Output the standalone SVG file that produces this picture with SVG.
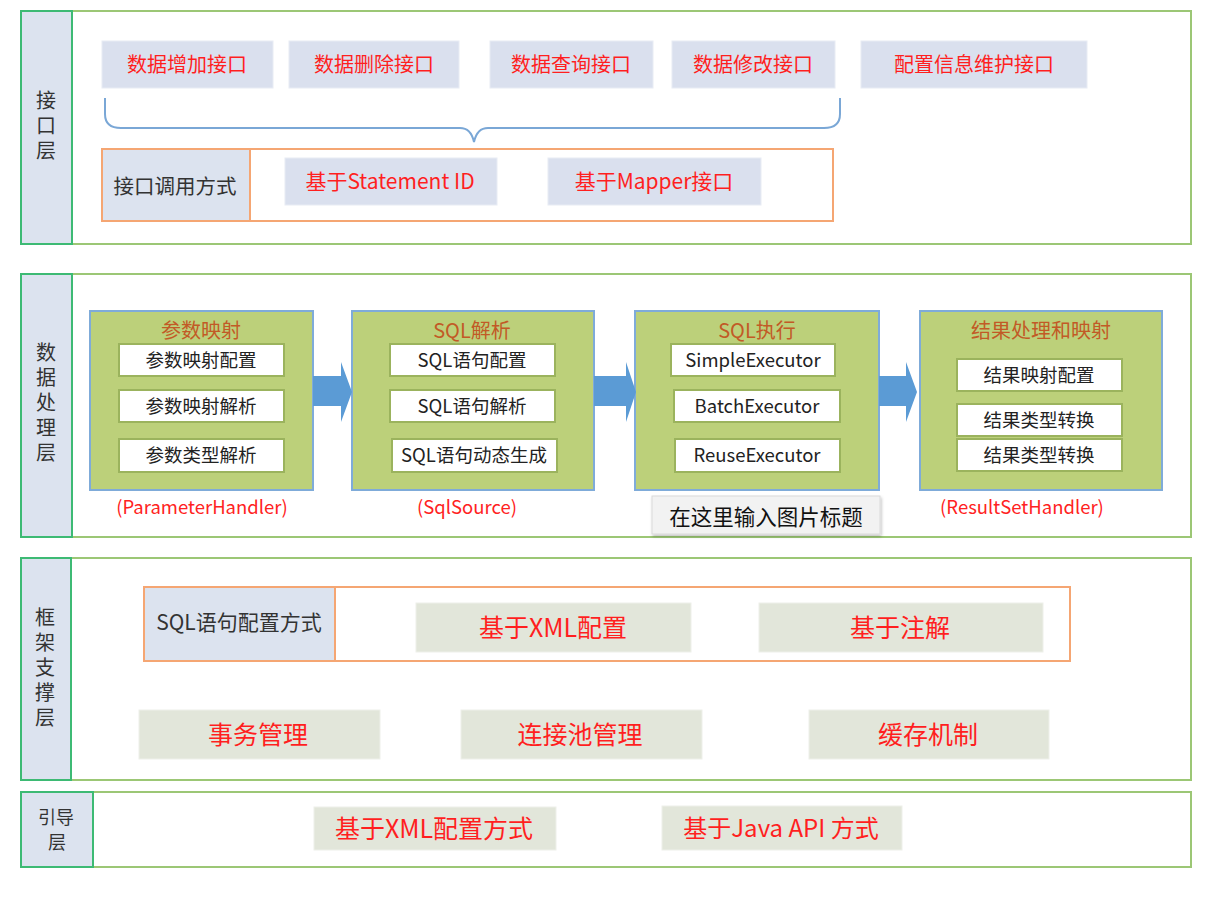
<svg xmlns="http://www.w3.org/2000/svg" width="1226" height="920" viewBox="0 0 1226 920">
<defs>
<style>
text{font-family:"Noto Sans CJK SC","Noto Sans",sans-serif;text-anchor:middle;dominant-baseline:central}
.layer{fill:#fff;stroke:#9cc775;stroke-width:2}
.lab{fill:#dce3ef;stroke:#3dba74;stroke-width:2}
.labt{font-size:20px;fill:#333}
.vert{writing-mode:vertical-rl;letter-spacing:5px;font-size:20px;fill:#333}
.blue{fill:#dae0ee;stroke:#e8ecf4;stroke-width:1}
.red{fill:#ff1f1f}
.grey{fill:#e2e6da;stroke:#eef0ea;stroke-width:1}
.org{fill:none;stroke:#f5a673;stroke-width:2}
.cell{fill:#dce3ef;stroke:#f5a673;stroke-width:2}
.proc{fill:#bcd07a;stroke:#7fabd9;stroke-width:2}
.sub{fill:#fff;stroke:#9bb35d;stroke-width:2}
.ptitle{font-size:20px;fill:#c25a26}
.subt{font-size:18.5px;fill:#222}
.hand{font-size:18.5px;fill:#ff2222}
.arr{fill:#5b9bd5}
</style>
<filter id="sh" x="-10%" y="-20%" width="120%" height="150%"><feDropShadow dx="1" dy="2" stdDeviation="1.5" flood-color="#000" flood-opacity="0.25"/></filter>
</defs>
<rect width="1226" height="920" fill="#fff"/>

<!-- Layer 1 -->
<g id="layer-interface">
<rect class="layer" x="21" y="11" width="1170" height="233"/>
<rect class="lab" x="21" y="11" width="51" height="233"/>
<text class="vert" x="46" y="128">接口层</text>
</g>
<g id="n-add"><rect class="blue" x="102" y="41" width="171" height="47"/><text class="red" x="187" y="63" font-size="20">数据增加接口</text></g>
<g id="n-del"><rect class="blue" x="289" y="41" width="170" height="47"/><text class="red" x="374" y="63" font-size="20">数据删除接口</text></g>
<g id="n-query"><rect class="blue" x="490" y="41" width="163" height="47"/><text class="red" x="571" y="63" font-size="20">数据查询接口</text></g>
<g id="n-mod"><rect class="blue" x="672" y="41" width="163" height="47"/><text class="red" x="753" y="63" font-size="20">数据修改接口</text></g>
<g id="n-conf"><rect class="blue" x="861" y="41" width="226" height="47"/><text class="red" x="974" y="63" font-size="20">配置信息维护接口</text></g>
<g id="n-call">
<rect class="org" x="102" y="149" width="731" height="72"/>
<rect class="cell" x="102" y="149" width="148" height="72"/>
<text x="175" y="185" font-size="20.5" fill="#333">接口调用方式</text>
</g>
<g id="n-stmt"><rect class="blue" x="285" y="158" width="212" height="47"/><text class="red" x="390" y="180" font-size="21">基于Statement ID</text></g>
<g id="n-mapper"><rect class="blue" x="548" y="158" width="213" height="47"/><text class="red" x="654" y="180" font-size="21">基于Mapper接口</text></g>

<!-- Layer 2 -->
<g id="layer-process">
<rect class="layer" x="21" y="274" width="1170" height="263"/>
<rect class="lab" x="21" y="274" width="51" height="263"/>
<text class="vert" x="46" y="405">数据处理层</text>
</g>
<g id="n-param">
<rect class="proc" x="90" y="311" width="223" height="179"/>
<text class="ptitle" x="201" y="329">参数映射</text>
<rect class="sub" x="119" y="344" width="165" height="32"/><text class="subt" x="201" y="359">参数映射配置</text>
<rect class="sub" x="119" y="390" width="165" height="32"/><text class="subt" x="201" y="405">参数映射解析</text>
<rect class="sub" x="119" y="439" width="165" height="33"/><text class="subt" x="201" y="454">参数类型解析</text>
<text class="hand" x="202" y="506">(ParameterHandler)</text>
</g>
<g id="n-sql">
<rect class="proc" x="352" y="311" width="242" height="179"/>
<text class="ptitle" x="472" y="329">SQL解析</text>
<rect class="sub" x="390" y="344" width="165" height="32"/><text class="subt" x="472" y="359">SQL语句配置</text>
<rect class="sub" x="390" y="390" width="165" height="32"/><text class="subt" x="472" y="405">SQL语句解析</text>
<rect class="sub" x="392" y="439" width="165" height="33"/><text class="subt" x="474" y="454">SQL语句动态生成</text>
<text class="hand" x="467" y="506">(SqlSource)</text>
</g>
<g id="n-exec">
<rect class="proc" x="635" y="311" width="244" height="179"/>
<text class="ptitle" x="757" y="329">SQL执行</text>
<rect class="sub" x="671" y="344" width="164" height="32"/><text class="subt" x="753" y="359">SimpleExecutor</text>
<rect class="sub" x="674" y="390" width="166" height="32"/><text class="subt" x="757" y="405">BatchExecutor</text>
<rect class="sub" x="675" y="439" width="165" height="33"/><text class="subt" x="757" y="454">ReuseExecutor</text>
</g>
<g id="n-result">
<rect class="proc" x="920" y="311" width="242" height="179"/>
<text class="ptitle" x="1041" y="329">结果处理和映射</text>
<rect class="sub" x="957" y="359" width="165" height="32"/><text class="subt" x="1039" y="374">结果映射配置</text>
<rect class="sub" x="957" y="404" width="165" height="32"/><text class="subt" x="1039" y="419">结果类型转换</text>
<rect class="sub" x="957" y="439" width="165" height="32"/><text class="subt" x="1039" y="454">结果类型转换</text>
<text class="hand" x="1022" y="506">(ResultSetHandler)</text>
</g>
<g id="n-caption">
<rect x="652" y="496" width="228" height="38" fill="#f2f2f2" stroke="#dadada" stroke-width="1" filter="url(#sh)"/>
<text x="766" y="515" font-size="21.5" fill="#111">在这里输入图片标题</text>
</g>

<!-- Layer 3 -->
<g id="layer-framework">
<rect class="layer" x="21" y="558" width="1170" height="222"/>
<rect class="lab" x="21" y="558" width="50" height="222"/>
<text class="vert" x="45" y="670">框架支撑层</text>
</g>
<g id="n-sqlconf">
<rect class="org" x="144" y="587" width="926" height="74"/>
<rect class="cell" x="144" y="587" width="191" height="74"/>
<text x="239" y="621" font-size="21" fill="#333">SQL语句配置方式</text>
</g>
<g id="n-xml"><rect class="grey" x="416" y="603" width="275" height="49"/><text class="red" x="553" y="626" font-size="25">基于XML配置</text></g>
<g id="n-anno"><rect class="grey" x="759" y="603" width="284" height="49"/><text class="red" x="900" y="626" font-size="25">基于注解</text></g>
<g id="n-tx"><rect class="grey" x="139" y="710" width="241" height="49"/><text class="red" x="258" y="733" font-size="25">事务管理</text></g>
<g id="n-pool"><rect class="grey" x="461" y="710" width="241" height="49"/><text class="red" x="580" y="733" font-size="25">连接池管理</text></g>
<g id="n-cache"><rect class="grey" x="809" y="710" width="240" height="49"/><text class="red" x="928" y="733" font-size="25">缓存机制</text></g>

<!-- Layer 4 -->
<g id="layer-boot">
<rect class="layer" x="21" y="792" width="1170" height="75"/>
<rect class="lab" x="21" y="792" width="72" height="75"/>
<text x="56" y="816" font-size="18" fill="#333">引导</text>
<text x="57" y="841" font-size="18" fill="#333">层</text>
</g>
<g id="n-xmlboot"><rect class="grey" x="314" y="807" width="242" height="43"/><text class="red" x="434" y="827" font-size="25">基于XML配置方式</text></g>
<g id="n-java"><rect class="grey" x="662" y="806" width="240" height="44"/><text class="red" x="781" y="826" font-size="24">基于Java API 方式</text></g>

<!-- Connectors -->
<g id="connectors">
<path d="M105,98 V114 Q105,128 121,128 H460 Q471,128 474,142 Q477,128 488,128 H824 Q840,128 840,114 V98" fill="none" stroke="#7aa7d6" stroke-width="2"/>
<polygon class="arr" points="313,376 341,376 341,362 352,392 341,422 341,406 313,406"/>
<polygon class="arr" points="594,376 626,376 626,362 636,392 626,422 626,406 594,406"/>
<polygon class="arr" points="879,376 906,376 906,362 917,392 906,422 906,406 879,406"/>
</g>
</svg>
